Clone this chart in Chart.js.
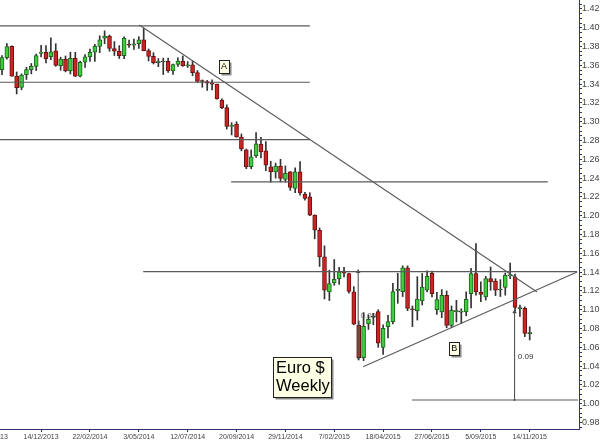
<!DOCTYPE html>
<html><head><meta charset="utf-8">
<script src="https://cdn.jsdelivr.net/npm/chart.js@4/dist/chart.umd.min.js"></script>
<style>
html,body{margin:0;padding:0;background:#fff;overflow:hidden;width:600px;height:440px;}
#wrap{position:absolute;left:-28px;top:0;width:628px;height:440px;}
</style></head><body>
<div id="wrap"><canvas id="c"></canvas></div>
<script>
// Weekly EUR/USD candles, week ending 19/10/2013 (index 0) to 14/11/2015 (index 108)
const open = [
1.3553,1.3683,1.3802,1.3487,1.3366,1.3500,1.3555,1.3590,1.3728,1.3740,
1.3692,1.3756,1.3596,1.3667,1.3540,1.3676,1.3486,1.3633,1.3692,1.3740,
1.3802,1.3890,1.3913,1.3780,1.3750,1.3702,1.3825,1.3814,1.3830,1.3872,
1.3757,1.3696,1.3630,1.3636,1.3642,1.3540,1.3609,1.3646,1.3593,1.3605,
1.3523,1.3430,1.3428,1.3410,1.3400,1.3230,1.3150,1.2950,1.2975,1.2838,
1.2700,1.2522,1.2640,1.2762,1.2690,1.2520,1.2467,1.2528,1.2386,1.2467,
1.2290,1.2467,1.2230,1.2200,1.2006,1.1846,1.1562,1.1189,1.1285,1.1331,
1.1412,1.1385,1.1190,1.0834,1.0490,1.0848,1.0920,1.0979,1.0600,1.0819,
1.0873,1.1205,1.1192,1.1447,1.1010,1.0990,1.1093,1.1207,1.1388,1.1001,
1.0976,1.1154,1.0834,1.0980,1.0975,1.0976,1.1172,1.1385,1.1189,1.1136,
1.1331,1.1306,1.1210,1.1236,1.1360,1.1349,1.1012,1.1015,1.0745];
const high = [
1.3705,1.3832,1.3808,1.3530,1.3510,1.3580,1.3620,1.3720,1.3812,1.3810,
1.3893,1.3830,1.3687,1.3700,1.3740,1.3739,1.3645,1.3716,1.3773,1.3824,
1.3915,1.3967,1.3923,1.3853,1.3810,1.3905,1.3870,1.3880,1.3905,1.3993,
1.3775,1.3735,1.3672,1.3677,1.3677,1.3615,1.3680,1.3700,1.3640,1.3645,
1.3545,1.3445,1.3440,1.3445,1.3400,1.3245,1.3180,1.2990,1.3000,1.2870,
1.2710,1.2700,1.2886,1.2835,1.2790,1.2580,1.2560,1.2600,1.2530,1.2470,
1.2510,1.2575,1.2250,1.2245,1.2010,1.1870,1.1680,1.1420,1.1534,1.1450,
1.1450,1.1390,1.1245,1.0880,1.0970,1.0944,1.0961,1.1000,1.0840,1.0940,
1.1280,1.1387,1.1467,1.1467,1.1040,1.1352,1.1386,1.1413,1.1410,1.1185,
1.1215,1.1200,1.1040,1.1100,1.1010,1.1190,1.1440,1.1705,1.1298,1.1355,
1.1455,1.1330,1.1320,1.1390,1.1495,1.1380,1.1050,1.1030,1.0819];
const low = [
1.3500,1.3665,1.3484,1.3296,1.3340,1.3450,1.3510,1.3545,1.3690,1.3625,
1.3660,1.3590,1.3548,1.3531,1.3508,1.3480,1.3477,1.3578,1.3641,1.3642,
1.3735,1.3830,1.3750,1.3705,1.3673,1.3672,1.3790,1.3770,1.3780,1.3755,
1.3647,1.3615,1.3586,1.3503,1.3525,1.3503,1.3590,1.3590,1.3577,1.3490,
1.3420,1.3367,1.3333,1.3338,1.3240,1.3140,1.2922,1.2860,1.2835,1.2690,
1.2500,1.2500,1.2620,1.2615,1.2480,1.2358,1.2400,1.2360,1.2358,1.2270,
1.2245,1.2220,1.2165,1.2000,1.1754,1.1460,1.1115,1.1098,1.1260,1.1270,
1.1350,1.1175,1.0840,1.0465,1.0458,1.0790,1.0840,1.0600,1.0525,1.0700,
1.0850,1.1068,1.1140,1.0990,1.0820,1.0890,1.1050,1.1190,1.1135,1.0950,
1.0915,1.0808,1.0808,1.0870,1.0855,1.0935,1.1020,1.1155,1.1085,1.1103,
1.1207,1.1150,1.1140,1.1155,1.1330,1.0990,1.0930,1.0713,1.0678];
const close = [
1.3684,1.3801,1.3486,1.3364,1.3498,1.3555,1.3591,1.3705,1.3742,1.3671,
1.3745,1.3600,1.3667,1.3540,1.3676,1.3486,1.3633,1.3692,1.3740,1.3802,
1.3873,1.3913,1.3780,1.3750,1.3702,1.3888,1.3814,1.3830,1.3871,1.3757,
1.3696,1.3630,1.3636,1.3642,1.3540,1.3609,1.3646,1.3593,1.3605,1.3523,
1.3430,1.3428,1.3410,1.3400,1.3242,1.3150,1.2950,1.2963,1.2840,1.2710,
1.2520,1.2627,1.2765,1.2680,1.2538,1.2467,1.2528,1.2397,1.2450,1.2301,
1.2467,1.2244,1.2184,1.2006,1.1846,1.1562,1.1207,1.1278,1.1324,1.1402,
1.1390,1.1195,1.0845,1.0490,1.0823,1.0898,1.0928,1.0643,1.0802,1.0873,
1.1192,1.1212,1.1447,1.1015,1.0998,1.1114,1.1242,1.1356,1.1172,1.1108,
1.1154,1.0834,1.0994,1.0986,1.0978,1.1111,1.1385,1.1189,1.1164,1.1331,
1.1295,1.1207,1.1216,1.1367,1.1367,1.1025,1.1020,1.0749,1.0752];

// x-axis tick labels (week index relative to first candle)
const tickWeeks  = [-2, 8, 18, 28, 38, 48, 58, 68, 78, 88, 98, 108];
const tickLabels = ['5/10/2013','14/12/2013','22/02/2014','3/05/2014','12/07/2014','20/09/2014',
                    '29/11/2014','7/02/2015','18/04/2015','27/06/2015','5/09/2015','14/11/2015'];

// drawn analysis: horizontal levels [price, fromWeek, toWeek]
const levels = [[1.402,-7,63.0],[1.342,-7,63.0],[1.281,-7,63.0],[1.236,46.9,111.7],[1.1405,28.9,117.7],[1.0039,83.9,117.9]];
// trend lines [[week, price],[week, price]]
const trendLines = [[[28.1,1.4030],[109.5,1.1189]], [[73.9,1.0394],[117.7,1.1401]]];
// measured move arrows [[week, bottom],[week, top]]
const arrows = [[[72.9,1.0483],[72.9,1.1405]], [[104.9,1.0039],[104.9,1.0975]]];

const weeks = open.map((_, i) => i);
const FONT = '"Liberation Sans", Arial, sans-serif';
const isUp = i => close[i] >= open[i];
const isDoji = i => Math.abs(close[i] - open[i]) < 0.0012;

const datasets = [];
levels.forEach(([p, a, b]) => datasets.push({type:'line', data:[{x:a,y:p},{x:b,y:p}],
  borderColor:'#5a5a5a', borderWidth:1.1, pointRadius:0, pointHoverRadius:0, fill:false, order:0}));
trendLines.forEach(([s, e]) => datasets.push({type:'line', data:[{x:s[0],y:s[1]},{x:e[0],y:e[1]}],
  borderColor:'#5a5a5a', borderWidth:1.1, pointRadius:0, pointHoverRadius:0, fill:false, order:0}));
arrows.forEach(([s, e]) => datasets.push({type:'line', data:[{x:s[0],y:s[1]},{x:e[0],y:e[1]}],
  borderColor:'#555', borderWidth:1.1, pointRadius:[1.2,2.6], pointHoverRadius:0, pointStyle:['rect','triangle'],
  pointBackgroundColor:'#444', pointBorderWidth:0, fill:false, order:0}));

datasets.push({
  label:'wick', data: weeks.map(i => ({x:i, y:[low[i], high[i]]})),
  backgroundColor:'#333', borderWidth:0, barThickness:1, grouped:false, order:2
});
datasets.push({
  label:'body', data: weeks.map(i => ({x:i, y:[open[i], close[i]]})),
  backgroundColor: c => isUp(c.dataIndex) ? '#3fcc3f' : '#cc2424',
  borderColor: c => isDoji(c.dataIndex) ? '#222' : (isUp(c.dataIndex) ? '#1d661d' : '#6a1010'),
  borderWidth:1, borderSkipped:false, barThickness:4, minBarLength:1, grouped:false, order:1
});

function boxLabel(ctx, cx, cy, w, h, lines, size, lineGap, align) {
  const x = Math.round(cx - w/2) + 0.5, y = Math.round(cy - h/2) + 0.5;
  ctx.save();
  ctx.fillStyle = '#8a8a8a';
  ctx.fillRect(x + 2, y + 2, w, h);
  ctx.fillStyle = '#ffffe6';
  ctx.fillRect(x, y, w, h);
  ctx.strokeStyle = '#222'; ctx.lineWidth = 1;
  ctx.strokeRect(x, y, w, h);
  ctx.fillStyle = '#000';
  ctx.font = size + 'px ' + FONT;
  ctx.textBaseline = 'middle';
  ctx.textAlign = align;
  const n = lines.length;
  lines.forEach((t, k) => {
    const ty = cy + (k - (n - 1) / 2) * lineGap;
    ctx.fillText(t, align === 'center' ? cx : x + 2.5, ty);
  });
  ctx.restore();
}

const notes = {
  id:'notes',
  beforeDatasetsDraw(chart) {
    const {ctx, scales:{x, y}} = chart;
    ctx.save();
    ctx.font = '8px ' + FONT; ctx.fillStyle = '#777';
    ctx.textAlign = 'center'; ctx.textBaseline = 'middle';
    ctx.fillText('0.09', x.getPixelForValue(74.97), y.getPixelForValue(1.0933));
    ctx.restore();
  },
  afterDatasetsDraw(chart) {
    const {ctx, scales:{x, y}} = chart;
    ctx.save();
    ctx.font = '8px ' + FONT; ctx.fillStyle = '#333';
    ctx.textAlign = 'center'; ctx.textBaseline = 'middle';
    ctx.fillText('0.09', x.getPixelForValue(107.15), y.getPixelForValue(1.0497));
    ctx.restore();
    boxLabel(ctx, x.getPixelForValue(45.44), y.getPixelForValue(1.3589), 10, 13, ['A'], 9, 0, 'center');
    boxLabel(ctx, x.getPixelForValue(92.57), y.getPixelForValue(1.0584), 10, 13, ['B'], 9, 0, 'center');
    boxLabel(ctx, x.getPixelForValue(61.34), y.getPixelForValue(1.0281), 58, 40, ['Euro $', 'Weekly'], 16.5, 18.5, 'left');
  }
};

const zeroPad = s => { s.paddingTop = 0; s.paddingBottom = 0; s.paddingLeft = 0; s.paddingRight = 0; };

new Chart(document.getElementById('c'), {
  type:'bar',
  data:{ datasets },
  plugins:[notes],
  options:{
    responsive:true, maintainAspectRatio:false, animation:false, events:[],
    layout:{ padding:0, autoPadding:false },
    plugins:{ legend:{display:false}, tooltip:{enabled:false} },
    scales:{
      x:{
        type:'linear', position:'bottom', min:-6.14, max:118.09, offset:false,
        grid:{ drawOnChartArea:false, drawTicks:true, tickLength:3, color:'#33336b', offset:false },
        border:{ display:true, color:'#33336b', width:1 },
        afterBuildTicks: s => { s.ticks = tickWeeks.map(v => ({value:v})); },
        ticks:{ autoSkip:false, maxRotation:0, minRotation:0, padding:1, color:'#444',
                font:{ size:7, family:FONT }, callback:(v, i) => tickLabels[i] },
        afterFit: s => { s.height = 11; zeroPad(s); }
      },
      y:{
        type:'linear', position:'right', min:0.97308, max:1.42956, beginAtZero:false,
        grid:{ drawOnChartArea:false, drawTicks:true, tickLength:3, color:'#33336b' },
        border:{ display:true, color:'#33336b', width:1 },
        ticks:{ stepSize:0.005, includeBounds:false, autoSkip:false, padding:0, color:'#444',
                font:{ size:9, family:FONT },
                callback: v => { const k = Math.round(v*100); return (Math.abs(v*100-k) < 1e-6 && k % 2 === 0) ? v.toFixed(2) : ''; } },
        afterFit: s => { s.width = 21; zeroPad(s); }
      }
    }
  }
});
</script>
</body></html>
